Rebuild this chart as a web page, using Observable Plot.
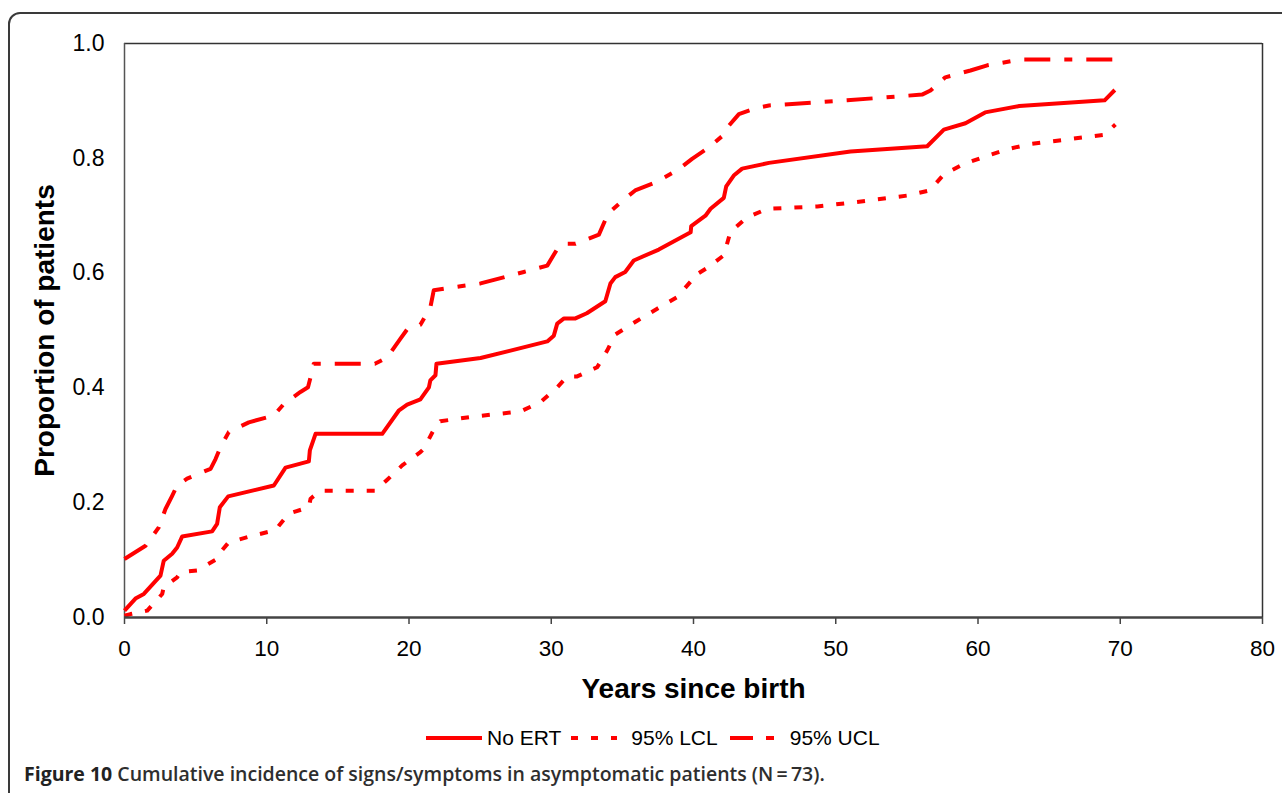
<!DOCTYPE html>
<html>
<head>
<meta charset="utf-8">
<script src="https://cdn.jsdelivr.net/npm/d3@7"></script>
<script src="https://cdn.jsdelivr.net/npm/@observablehq/plot@0.6"></script>
<style>
  html, body { margin: 0; padding: 0; background: #fff; overflow: hidden; }
  #wrap { position: relative; width: 1282px; height: 793px; overflow: hidden; }
  #border { position: absolute; left: 8px; top: 12px; width: 1340px; height: 840px; border: 2px solid #3a3a3a; border-top-left-radius: 12px; box-sizing: border-box; }
  #chart { position: absolute; left: 0; top: 0; }
  #legend { position: absolute; left: 426px; top: 726px; display: flex; align-items: center; font-family: "Liberation Sans", Arial, sans-serif; font-size: 21px; color: #000; white-space: nowrap; }
  #legend .item { display: flex; align-items: center; }
  #legend svg { display: block; }
  #caption { position: absolute; left: 24px; top: 760px; font-family: "Open Sans", sans-serif; font-size: 19.5px; font-weight: 600; color: #2e2e2e; white-space: nowrap; }
  #caption b { font-weight: 700; color: #222; }
</style>
</head>
<body>
<div id="wrap">
  <div id="border"></div>
  <div id="chart"></div>
  <div id="legend"></div>
  <div id="caption"></div>
</div>
<script>
// ---- Data ----
const noErt = [
  [0,0.012],[0.77,0.033],[1.36,0.041],[2.53,0.073],[2.76,0.099],[3.35,0.111],[3.7,0.122],[4.05,0.141],
  [6.16,0.150],[6.51,0.163],[6.7,0.192],[7.29,0.211],[10.5,0.230],[11.32,0.261],[12.96,0.272],[13.03,0.291],
  [13.43,0.320],[18.12,0.320],[19.3,0.361],[19.87,0.371],[20.8,0.380],[21.4,0.401],[21.5,0.413],[21.86,0.422],
  [21.93,0.442],[25.03,0.452],[29.72,0.481],[30.18,0.491],[30.42,0.512],[30.9,0.521],[31.7,0.521],[32.5,0.530],
  [33.8,0.551],[34.16,0.582],[34.5,0.593],[35.2,0.602],[35.8,0.622],[37.56,0.641],[39.8,0.671],[39.84,0.682],
  [40.84,0.700],[41.2,0.712],[42.13,0.731],[42.3,0.751],[42.83,0.770],[43.42,0.782],[45.3,0.792],[51.04,0.812],
  [56.43,0.821],[57.6,0.850],[59.12,0.861],[60.5,0.880],[62.9,0.891],[68.9,0.901],[69.62,0.919]
];
const lcl = [
  [0,0.003],[0.42,0.006],[1.6,0.012],[2.65,0.041],[2.76,0.053],[3.7,0.070],[3.94,0.079],[5.11,0.082],
  [6.51,0.102],[6.75,0.114],[7.33,0.131],[9.09,0.143],[10.6,0.152],[10.85,0.160],[11.55,0.181],[12.96,0.192],
  [13.08,0.207],[13.78,0.221],[17.64,0.221],[18.47,0.240],[19.52,0.265],[20.8,0.288],[21.04,0.294],[21.74,0.327],
  [22.2,0.342],[24.56,0.350],[27.84,0.359],[29.24,0.375],[30.42,0.401],[31.12,0.420],[31.82,0.420],[33.23,0.436],
  [33.93,0.465],[34.5,0.493],[36.04,0.517],[37.45,0.538],[38.85,0.558],[39.79,0.585],[39.91,0.593],[40.9,0.608],
  [42.13,0.631],[42.6,0.672],[43.77,0.697],[45.18,0.712],[48.7,0.716],[51.5,0.724],[55.0,0.735],[56.6,0.744],
  [57.6,0.772],[59.0,0.790],[60.6,0.804],[62.1,0.816],[63.7,0.825],[68.9,0.841],[69.66,0.859]
];
const ucl = [
  [0,0.102],[1.48,0.125],[2.41,0.157],[2.88,0.189],[3.35,0.212],[3.7,0.230],[4.4,0.242],[6.05,0.259],
  [6.4,0.276],[6.75,0.297],[7.33,0.323],[8.74,0.340],[10.5,0.352],[11.2,0.372],[12.37,0.393],[12.9,0.401],
  [13.2,0.430],[13.3,0.442],[17.6,0.442],[18.47,0.453],[19.4,0.486],[19.87,0.502],[20.8,0.510],[21.5,0.540],
  [21.74,0.570],[23.62,0.577],[25.03,0.582],[28.07,0.602],[29.72,0.613],[30.42,0.642],[30.88,0.651],[31.7,0.651],
  [33.35,0.667],[34.0,0.704],[35.0,0.726],[35.9,0.744],[37.33,0.758],[38.85,0.779],[39.9,0.799],[41.08,0.819],
  [42.13,0.841],[42.25,0.850],[43.19,0.877],[44.48,0.888],[45.3,0.892],[50.8,0.901],[56.07,0.911],[56.66,0.918],
  [57.7,0.941],[59.47,0.953],[60.65,0.962],[62.29,0.969],[62.99,0.972],[69.55,0.972]
];
const xTicks = [0, 10, 20, 30, 40, 50, 60, 70, 80];
const yTicks = [0, 0.2, 0.4, 0.6, 0.8, 1.0];
const xLabel = "Years since birth";
const yLabel = "Proportion of patients";
const seriesNames = ["No ERT", "95% LCL", "95% UCL"];
const captionBold = "Figure 10";
const captionText = "Cumulative incidence of signs/symptoms in asymptomatic patients (N\u2009=\u200973).";

// ---- Styles ----
const RED = "#ff0000";
const dashes = [null, "8,13", "26,14,8,14"];
const legendDashes = [null, "7,13", "23,13,8,20"];
const seriesData = [noErt, lcl, ucl];

const lineMarks = seriesData.map((data, i) =>
  Plot.line(data, {
    x: d => d[0], y: d => d[1],
    stroke: RED, strokeWidth: 4,
    strokeDasharray: dashes[i] ?? undefined,
    strokeLinecap: "butt", strokeLinejoin: "round", curve: "linear"
  })
);

const chart = Plot.plot({
  width: 1282,
  height: 720,
  marginLeft: 124,
  marginRight: 20,
  marginTop: 43,
  marginBottom: 103,
  style: { fontFamily: "'Liberation Sans', Arial, sans-serif", fontSize: "22px", color: "#000", background: "transparent", overflow: "visible" },
  x: { domain: [0, 80] },
  y: { domain: [0, 1] },
  marks: [
    Plot.ruleY([1], { stroke: "#333", strokeWidth: 1.5 }),
    Plot.ruleX([80], { stroke: "#333", strokeWidth: 1.5 }),
    Plot.ruleX([0], { stroke: "#555", strokeWidth: 1.5 }),
    ...lineMarks,
    Plot.ruleY([0], { stroke: "#444", strokeWidth: 2.5 }),
    Plot.axisX({ ticks: xTicks, tickSize: 7, tickPadding: 16, label: null, fontSize: 22.5, stroke: "#444", strokeWidth: 1.5, tickFormat: d => String(d) }),
    Plot.axisY({ ticks: yTicks, tickSize: 0, tickPadding: 20, label: null, fontSize: 23, tickFormat: d => d.toFixed(1) }),
    Plot.text([xLabel], { text: d => d, frameAnchor: "bottom", dy: 80, fontWeight: "bold", fontSize: 28, fill: "#000" }),
    Plot.text([yLabel], { text: d => d, frameAnchor: "left", dx: -79, rotate: -90, textAnchor: "middle", fontWeight: "bold", fontSize: 28, fill: "#000" })
  ]
});
document.getElementById("chart").appendChild(chart);

// ---- Legend ----
const legend = document.getElementById("legend");
const swatchW = [56, 46, 44];
const textGapBefore = [5, 14, 16];
const gapAfter = [10, 12, 0];
seriesNames.forEach((name, i) => {
  const item = document.createElement("div");
  item.className = "item";
  item.style.marginRight = gapAfter[i] + "px";
  const ns = "http://www.w3.org/2000/svg";
  const svg = document.createElementNS(ns, "svg");
  svg.setAttribute("width", swatchW[i]);
  svg.setAttribute("height", 10);
  const ln = document.createElementNS(ns, "line");
  ln.setAttribute("x1", 0); ln.setAttribute("x2", swatchW[i]);
  ln.setAttribute("y1", 5); ln.setAttribute("y2", 5);
  ln.setAttribute("stroke", RED); ln.setAttribute("stroke-width", 4);
  if (legendDashes[i]) ln.setAttribute("stroke-dasharray", legendDashes[i]);
  svg.appendChild(ln);
  item.appendChild(svg);
  const span = document.createElement("span");
  span.textContent = name;
  span.style.marginLeft = textGapBefore[i] + "px";
  item.appendChild(span);
  legend.appendChild(item);
});

// ---- Caption ----
const cap = document.getElementById("caption");
const b = document.createElement("b");
b.textContent = captionBold;
cap.appendChild(b);
cap.appendChild(document.createTextNode(" " + captionText));
</script>
</body>
</html>
